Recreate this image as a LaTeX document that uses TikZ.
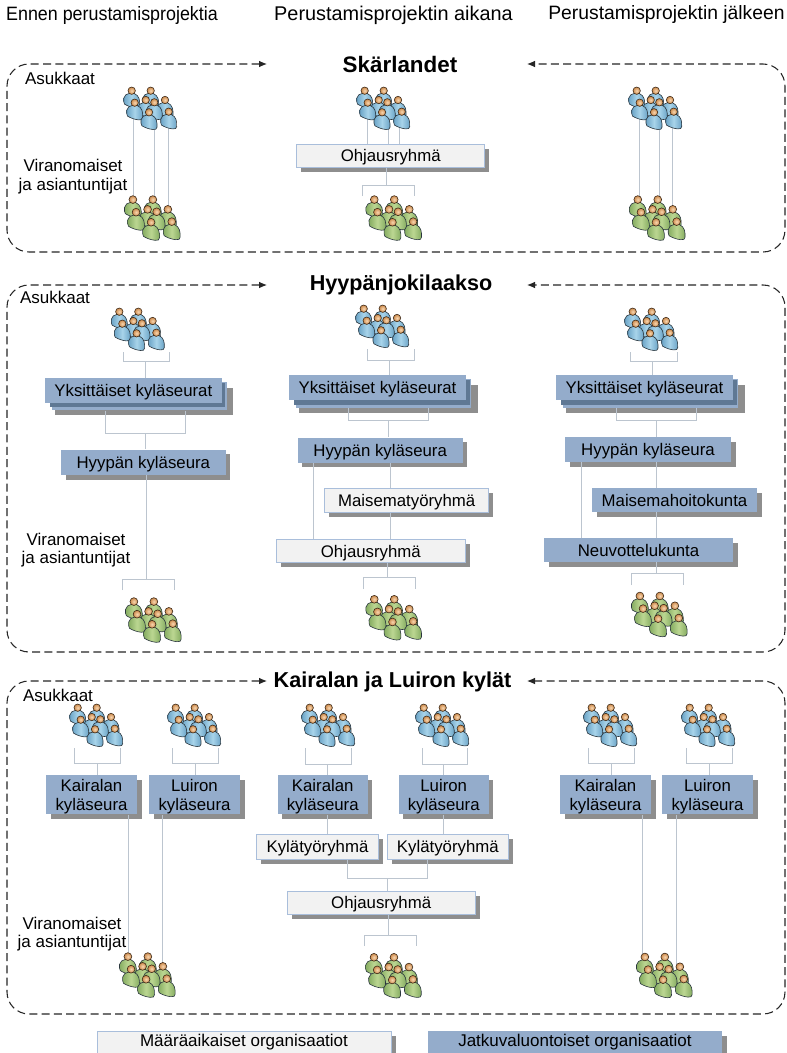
\documentclass[tikz,border=0pt]{standalone}
\usepackage{fontspec}
\setmainfont{Liberation Sans}
\usetikzlibrary{arrows.meta,backgrounds}
\pgfsetlayers{background,main}
\definecolor{lineC}{HTML}{BCC5CF}
\definecolor{shadowC}{HTML}{8E8E8E}
\definecolor{stackC}{HTML}{5F7894}
\definecolor{blueBox}{HTML}{94ACCB}
\definecolor{greyBox}{HTML}{F2F2F2}
\definecolor{greyEdge}{HTML}{A9BEDB}
\definecolor{bodyBlueL}{HTML}{A8D4EA}
\definecolor{bodyBlueD}{HTML}{6AA3C6}
\definecolor{bodyGreenL}{HTML}{BCD792}
\definecolor{bodyGreenD}{HTML}{84AB60}
\definecolor{headL}{HTML}{F8D6B0}
\definecolor{headD}{HTML}{CC8A4C}
\definecolor{outlineC}{HTML}{2A363E}
\tikzset{
  conn/.style={draw=lineC,line width=.7pt},
  panelline/.style={draw=black!85,line width=.8pt,dash pattern=on 6pt off 3.2pt,rounded corners=16.5pt,{Latex[length=6pt,width=5pt]}-{Latex[length=6pt,width=5pt]}},
  permbox/.style={fill=blueBox,inner sep=0pt,text depth=0pt,font=\fontsize{12.6pt}{14.8pt}\selectfont,align=center},
  tempbox/.style={fill=greyBox,draw=greyEdge,line width=.7pt,inner sep=0pt,text depth=0pt,font=\fontsize{12.6pt}{14.8pt}\selectfont,align=center},
  coltitle/.style={font=\fontsize{14.5pt}{17pt}\selectfont,inner sep=0pt},
  ptitle/.style={font=\bfseries\fontsize{16.2pt}{19pt}\selectfont,inner sep=0pt},
  sidelabel/.style={font=\fontsize{12.75pt}{15pt}\selectfont,inner sep=0pt},
  grpnode/.style={inner sep=0pt,outer sep=0pt},
}
% one person: head centre at local (0,0)
\newcommand{\onePerson}[4]{% x y light dark
  \begin{scope}[shift={(#1,#2)}]
    \shade[left color=#4,right color=#4,middle color=#3,draw=outlineC,line width=.45pt]
      (-2.2,2.6) .. controls (-5,3.2) and (-7.6,4.6) .. (-8,7.6)
      .. controls (-8.2,10) and (-8,12) .. (-7.2,13.4)
      .. controls (-4,15.4) and (0,16.8) .. (4,17.2)
      .. controls (6.5,17.5) and (8,16.8) .. (8,14.8)
      .. controls (8.2,10) and (7.8,5) .. (2.6,2.8) -- cycle;
    \shade[inner color=headL,outer color=headD,draw=black!70!headD,line width=.45pt] (0,0) circle (3.7);
  \end{scope}}
\newcommand{\blueGroup}[3]{% name x y
  \node[grpnode,minimum width=38.25pt,minimum height=33pt] (#1) at ({#2+30.5},{#3+24}) {};
  \begin{scope}[shift={(#2,#3)}]
    \foreach \px/\py in {11.7/5.7,30.7/5.7,25.7/15,45/15,14.7/17.7,34.3/17.3,29/27.3,48.7/26.7}
      {\onePerson{\px}{\py}{bodyBlueL}{bodyBlueD}}
  \end{scope}}
\newcommand{\greenGroup}[3]{% name x y
  \node[grpnode,minimum width=39.75pt,minimum height=35.25pt] (#1) at ({#2+31.9},{#3+24.9}) {};
  \begin{scope}[shift={(#2,#3)},scale=1.05]
    \foreach \px/\py in {11.7/5.7,30.7/5.7,25.7/15,45/15,14.7/17.7,34.3/17.3,29/27.3,48.7/26.7}
      {\onePerson{\px}{\py}{bodyGreenL}{bodyGreenD}}
  \end{scope}}
% box with drop shadow: name x1 y1 x2 y2 style text
\newcommand{\boxS}[7]{%
  \begin{pgfonlayer}{background}
    \fill[shadowC] ({#2+4.5},{#3+4.5}) rectangle ({#4+4.5},{#5+4.5});
  \end{pgfonlayer}
  \node[#6,minimum width={(#4-#2)*0.75pt},minimum height={(#5-#3)*0.75pt}] (#1) at ({(#2+#4)/2},{(#3+#5)/2}) {#7};}
% stacked blue box
\newcommand{\boxStack}[6]{% name x1 y1 x2 y2 text
  \begin{pgfonlayer}{background}
    \fill[shadowC] ({#2+10},{#3+9.5}) rectangle ({#4+11.5},{#5+12.5});
    \node[fill=blueBox,inner sep=0pt,minimum width={(#4-#2-2)*0.75pt},minimum height={(#5-#3+3.5)*0.75pt}] (#1back) at ({(#2+#4)/2+6},{(#3+#5)/2+6}) {};
    \fill[stackC] ({#2+5},{#3+5}) rectangle ({#4+3.5},{#5+4.5});
  \end{pgfonlayer}
  \node[permbox,minimum width={(#4-#2)*0.75pt},minimum height={(#5-#3)*0.75pt}] (#1) at ({(#2+#4)/2},{(#3+#5)/2}) {#6};}
\newcommand{\brUp}[6]{% group lowernode xL xM xR yBar
  \draw[conn] (#1.south -| #3,0) |- (#5,#6) -- (#1.south -| #5,0);
  \draw[conn] (#4,#6) -- (#2.north -| #4,0);}
\newcommand{\brDown}[8]{% id upper green xL xM xR yBar yEnd
  \coordinate (#1L) at (#4,#8);
  \coordinate (#1R) at (#6,#8);
  \draw[conn] (#1L) |- (#6,#7) -- (#1R);
  \draw[conn] (#2.south -| #5,0) -- (#5,#7);}
\newcommand{\vl}[3]{\draw[conn] (#1 -| #3,0) -- (#2 -| #3,0);}
\begin{document}
\begin{tikzpicture}[x=0.75pt,y=-0.75pt]
\useasboundingbox (0,0) rectangle (787,1053);
\begin{pgfonlayer}{background}
\fill[white] (0,0) rectangle (787,1053);
\end{pgfonlayer}
% column titles
\node[coltitle] (c1) at (112,15.5) {\scalebox{.925}[1]{Ennen perustamisprojektia}};
\node[coltitle,font=\fontsize{14.9pt}{17pt}\selectfont] (c2) at (393.5,15) {Perustamisprojektin aikana};
\node[coltitle] (c3) at (666.5,15) {Perustamisprojektin jälkeen};
% panels
\node[ptitle,font=\bfseries\fontsize{16.8pt}{19pt}\selectfont] (t1) at (400,64) {Skärlandet};
\node[ptitle] (t2) at (401,285) {Hyypänjokilaakso};
\node[ptitle] (t3) at (392.5,682) {Kairalan ja Luiron kylät};
\coordinate (a1l) at (267,64); \coordinate (a1r) at (527,64);
\coordinate (a2l) at (267,285); \coordinate (a2r) at (527,285);
\coordinate (a3l) at (267,681); \coordinate (a3r) at (527,681);
\draw[panelline] (a1l) -- (7,64) -- (7,252) -- (785,252) -- (785,64) -- (a1r);
\draw[panelline] (a2l) -- (7,285) -- (7,652) -- (785,652) -- (785,285) -- (a2r);
\draw[panelline] (a3l) -- (7,681) -- (7,1014) -- (785,1014) -- (785,681) -- (a3r);
% side labels
\node[sidelabel] (l1a) at (60,78) {Asukkaat};
\node[sidelabel] (l1b) at (73,165) {Viranomaiset};
\node[sidelabel] (l1c) at (73,186) {ja asiantuntijat};
\node[sidelabel] (l2a) at (55,297) {Asukkaat};
\node[sidelabel] (l2b) at (76,539) {Viranomaiset};
\node[sidelabel] (l2c) at (76,559) {ja asiantuntijat};
\node[sidelabel] (l3a) at (58,695) {Asukkaat};
\node[sidelabel] (l3b) at (72,923) {Viranomaiset};
\node[sidelabel] (l3c) at (72,943) {ja asiantuntijat};
% ===== Skärlandet
\blueGroup{b1a}{120}{85}
\blueGroup{b1b}{353}{85}
\blueGroup{b1c}{625}{85}
\greenGroup{g1a}{120.6}{193.6}
\greenGroup{g1b}{362}{193.6}
\greenGroup{g1c}{625.5}{193.6}
\boxS{oh1}{296.7}{144}{484.7}{167.3}{tempbox}{Ohjausryhmä}
% ===== Hyypänjokilaakso
\blueGroup{b2a}{107.6}{306}
\blueGroup{b2b}{352}{303}
\blueGroup{b2c}{621}{306}
\greenGroup{g2a}{121.6}{595.6}
\greenGroup{g2b}{362}{593.3}
\greenGroup{g2c}{627.6}{590}
\boxStack{yk1}{45}{378}{221.7}{402.7}{Yksittäiset kyläseurat}
\boxStack{yk2}{289}{375}{466}{400}{Yksittäiset kyläseurat}
\boxStack{yk3}{556}{375}{733}{400}{Yksittäiset kyläseurat}
\boxS{hy1}{61}{449.7}{225.7}{475}{permbox}{Hyypän kyläseura}
\boxS{hy2}{297.7}{437.7}{462.7}{462.7}{permbox}{Hyypän kyläseura}
\boxS{hy3}{565}{437}{731}{462}{permbox}{Hyypän kyläseura}
\boxS{mt2}{324.7}{488}{488.7}{512.3}{tempbox}{Maisematyöryhmä}
\boxS{mh3}{592}{488}{757}{512}{permbox}{Maisemahoitokunta}
\boxS{oh2}{276.7}{539.3}{465}{562.7}{tempbox}{Ohjausryhmä}
\boxS{ne3}{544}{538}{733}{562}{permbox}{Neuvottelukunta}
% ===== Kairala & Luiro
\blueGroup{b3a}{66}{702}
\blueGroup{b3b}{164}{702}
\blueGroup{b3c}{298}{702}
\blueGroup{b3d}{412}{702}
\blueGroup{b3e}{580}{702}
\blueGroup{b3f}{678}{702}
\greenGroup{g3a}{115.6}{950.6}
\greenGroup{g3b}{361.7}{951.3}
\greenGroup{g3c}{632.6}{951}
\boxS{ka1}{46}{775.3}{137}{814.3}{permbox}{Kairalan\\kyläseura}
\boxS{lu1}{149}{775.3}{240}{814.3}{permbox}{Luiron\\kyläseura}
\boxS{ka2}{277.7}{775.3}{367.7}{814.3}{permbox}{Kairalan\\kyläseura}
\boxS{lu2}{398.7}{775.3}{488.7}{814.3}{permbox}{Luiron\\kyläseura}
\boxS{ka3}{560}{775.3}{651}{814.3}{permbox}{Kairalan\\kyläseura}
\boxS{lu3}{662}{775.3}{753}{814.3}{permbox}{Luiron\\kyläseura}
\boxS{ky1}{256.7}{834.3}{378.3}{859}{tempbox}{Kylätyöryhmä}
\boxS{ky2}{387}{834.3}{508.7}{859}{tempbox}{Kylätyöryhmä}
\boxS{oh3}{287}{891}{475.3}{914.7}{tempbox}{Ohjausryhmä}
% legend
\boxS{lg1}{97}{1031}{391}{1057}{tempbox}{}
\boxS{lg2}{428}{1031}{722}{1057}{permbox}{}
\node[sidelabel] (lg1t) at (244,1042) {Määräaikaiset organisaatiot};
\node[sidelabel] (lg2t) at (575,1042) {Jatkuvaluontoiset organisaatiot};
% ===== connectors
\begin{pgfonlayer}{background}
  % Skärlandet
  \foreach \x in {133.3,154.3,168} {\draw[conn] (b1a.center -| \x,0) -- (g1a.center -| \x,0);}
  \foreach \x in {367,388.5,399} {\draw[conn] (b1b.center -| \x,0) -- (oh1.north -| \x,0);}
  \foreach \x in {639,659,672} {\draw[conn] (b1c.center -| \x,0) -- (g1c.center -| \x,0);}
  \brDown{k1}{oh1}{g1b}{362.3}{386.7}{414.7}{185.3}{196}
  % Hyypä left
  \brUp{b2a}{yk1}{123.3}{145.7}{169.7}{361.7}
  \brUp{yk1back}{hy1}{105.3}{145.7}{185.7}{433.3}
  \brDown{k2}{hy1}{g2a}{122}{146.5}{174}{579}{590}
  % Hyypä mid
  \brUp{b2b}{yk2}{367}{389}{414}{360}
  \brUp{yk2back}{hy2}{348.7}{388.7}{428.7}{420.7}
  \vl{hy2.south}{mt2.north}{390.3}
  \vl{mt2.south}{oh2.north}{390.3}
  \vl{hy2.south}{oh2.north}{313.3}
  \brDown{k3}{oh2}{g2b}{363.3}{387.3}{415.7}{577.3}{589}
  % Hyypä right
  \brUp{b2c}{yk3}{630}{652}{677}{361}
  \brUp{yk3back}{hy3}{616}{656}{696}{420}
  \vl{hy3.south}{mh3.north}{656}
  \vl{mh3.south}{ne3.north}{656}
  \vl{hy3.south}{ne3.north}{581}
  \brDown{k4}{ne3}{g2c}{631}{656}{683}{573}{585}
  % Kairala left
  \brUp{b3a}{ka1}{74}{97}{120}{763.5}
  \brUp{b3b}{lu1}{172}{195}{218}{763.5}
  \vl{ka1.south}{g3a.center}{128.5}
  \vl{lu1.south}{g3a.center}{162}
  % Kairala mid
  \brUp{b3c}{ka2}{305.7}{327.3}{351.7}{764.3}
  \brUp{b3d}{lu2}{422.3}{443.7}{467.7}{764.3}
  \vl{ka2.south}{ky1.north}{327.3}
  \vl{lu2.south}{ky2.north}{443.7}
  \draw[conn] (ky1.south -| 347.3,0) |- (427.3,878) -- (ky2.south -| 427.3,0);
  \draw[conn] (387.3,878) -- (oh3.north -| 387.3,0);
  \brDown{k5}{oh3}{g3b}{364}{388.3}{416}{935}{946}
  % Kairala right
  \brUp{b3e}{ka3}{588}{611}{634}{763.5}
  \brUp{b3f}{lu3}{686}{709}{732}{763.5}
  \vl{ka3.south}{g3c.center}{642}
  \vl{lu3.south}{g3c.center}{676}
\end{pgfonlayer}
\end{tikzpicture}
\end{document}
